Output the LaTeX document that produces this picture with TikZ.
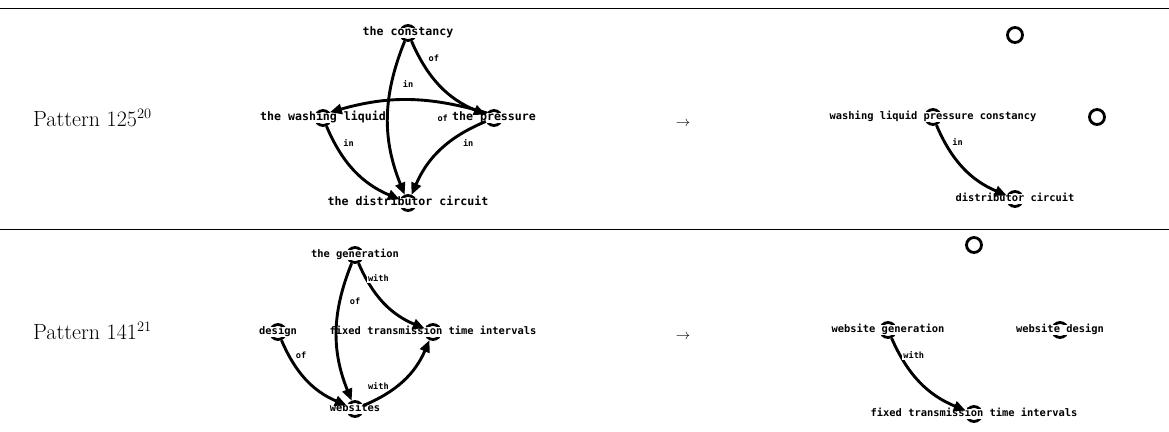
\documentclass[tikz,border=0pt]{standalone}
\usepackage{fontspec}
\newfontfamily\graphfont{DejaVu Sans Mono}
\usetikzlibrary{arrows.meta, calc}

\begin{document}
\begin{tikzpicture}[
    x=1pt, y=-1pt,
    vtx/.style    = {circle, draw, line width=2.8pt, minimum size=15pt, inner sep=0pt},
    txt/.style    = {fill=white, inner xsep=1pt, inner ysep=0.5pt, text height=7pt, text depth=2pt,
                     font=\graphfont\bfseries\fontsize{10.4}{12}\selectfont},
    bigtxt/.style = {txt, text height=7.6pt, text depth=2.2pt,
                     font=\graphfont\bfseries\fontsize{11.6}{13}\selectfont},
    elbl/.style   = {fill=white, inner sep=1pt, font=\graphfont\bfseries\fontsize{8.6}{10}\selectfont},
    arr/.style    = {-{Triangle[length=12pt,width=10pt]}, line width=2.9pt},
    rowline/.style = {line width=1pt},
    pat/.style    = {anchor=base west, inner sep=0pt, font=\fontsize{22}{26}\selectfont},
    impl/.style   = {anchor=base, inner sep=0pt, font=\fontsize{15}{18}\selectfont},
]
\useasboundingbox (0,0) rectangle (1169,431);

%% Table rules
\draw[rowline] (0,8.5) -- (1169,8.5);
\draw[rowline] (0,229) -- (1169,229);

%% Row labels
\node[pat]  (p125) at (33,126) {Pattern 125$^{20}$};
\node[pat]  (p141) at (33,339) {Pattern 141$^{21}$};
\node[impl] (i125) at (683,126) {$\rightarrow$};
\node[impl] (i141) at (683,339) {$\rightarrow$};

%% Pattern 125, left graph
\node[vtx] (cst) at (408,33)  {};
\node[vtx] (wsh) at (323,118) {};
\node[vtx] (prs) at (494,118) {};
\node[vtx] (dst) at (408,203) {};
\node[bigtxt] (cstT) at (cst) {the constancy};
\node[bigtxt] (wshT) at (wsh) {the washing liquid};
\node[bigtxt] (prsT) at (prs) {the pressure};
\node[bigtxt] (dstT) at (dst) {the distributor circuit};

\draw[arr] (cst) to[bend right=22] (dst);
\draw[arr] (cst) to[bend right=22] (prs);
\draw[arr] (prs.145) to[bend right=16] (wsh.40);
\draw[arr] (wsh) to[bend right=22] (dst);
\draw[arr] (prs) to[bend right=22] (dst);

\node[elbl] (lcd) at ($(cst)!.3!(dst)$) {in};
\node[elbl] (lcp) at ($(cst)!.3!(prs)$) {of};
\node[elbl] (lpw) at ($(prs)!.3!(wsh)$) {of};
\node[elbl] (lwd) at ($(wsh)!.3!(dst)$) {in};
\node[elbl] (lpd) at ($(prs)!.3!(dst)$) {in};

%% Pattern 125, right graph
\node[vtx] (wlp) at (933,117)  {};
\node[vtx] (dc)  at (1015,199) {};
\node[vtx] (o1)  at (1015,35)  {};
\node[vtx] (o2)  at (1097,117) {};
\node[txt] (wlpT) at (wlp) {washing liquid pressure constancy};
\node[txt] (dcT)  at (dc)  {distributor circuit};

\draw[arr] (wlp) to[bend right=22] (dc);
\node[elbl] (lwc) at ($(wlp)!.3!(dc)$) {in};

%% Pattern 141, left graph
\node[vtx] (gen) at (355,255) {};
\node[vtx] (dsg) at (278,332) {};
\node[vtx] (fxd) at (433,332) {};
\node[vtx] (web) at (355,409) {};
\node[txt] (genT) at (gen) {the generation};
\node[txt] (dsgT) at (dsg) {design};
\node[txt] (fxdT) at (fxd) {fixed transmission time intervals};
\node[txt] (webT) at (web) {websites};

\draw[arr] (gen) to[bend right=22] (web);
\draw[arr] (gen) to[bend right=22] (fxd);
\draw[arr] (dsg) to[bend right=22] (web);
\draw[arr] (web) to[bend right=22] (fxd);

\node[elbl] (lgw) at ($(gen)!.3!(web)$) {of};
\node[elbl] (lgf) at ($(gen)!.3!(fxd)$) {with};
\node[elbl] (ldw) at ($(dsg)!.3!(web)$) {of};
\node[elbl] (lwf) at ($(web)!.3!(fxd)$) {with};

%% Pattern 141, right graph
\node[vtx] (wg) at (888,330) {};
\node[vtx] (wd) at (1060,330) {};
\node[vtx] (ft) at (974,414) {};
\node[vtx] (o3) at (974,245) {};
\node[txt] (wgT) at (wg) {website generation};
\node[txt] (wdT) at (wd) {website design};
\node[txt] (ftT) at (ft) {fixed transmission time intervals};

\draw[arr] (wg) to[bend right=22] (ft);
\node[elbl] (lgt) at ($(wg)!.3!(ft)$) {with};

\end{tikzpicture}
\end{document}
